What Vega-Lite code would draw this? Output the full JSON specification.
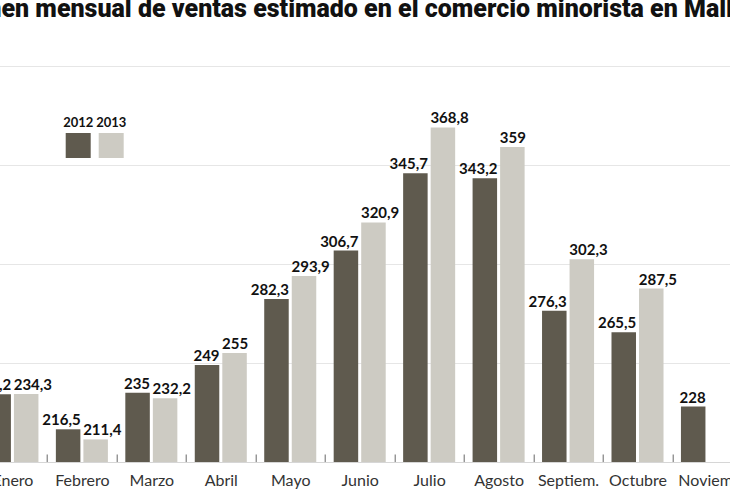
{
  "$schema": "https://vega.github.io/schema/vega-lite/v6.json",
  "width": 764,
  "height": 436,
  "autosize": {"type": "none"},
  "padding": {"left": -22.3, "top": 26, "right": 0, "bottom": 38},
  "background": "white",
  "title": {
    "text": "Volumen mensual de ventas estimado en el comercio minorista en Mallorca",
    "font": "Roboto",
    "fontSize": 25,
    "fontWeight": 900,
    "color": "#111111",
    "anchor": "middle",
    "offset": 4,
    "dx": -4
  },
  "data": {
    "values": [
      {"month": "Enero", "year": "2012", "value": 234.2},
      {"month": "Enero", "year": "2013", "value": 234.3},
      {"month": "Febrero", "year": "2012", "value": 216.5},
      {"month": "Febrero", "year": "2013", "value": 211.4},
      {"month": "Marzo", "year": "2012", "value": 235},
      {"month": "Marzo", "year": "2013", "value": 232.2},
      {"month": "Abril", "year": "2012", "value": 249},
      {"month": "Abril", "year": "2013", "value": 255},
      {"month": "Mayo", "year": "2012", "value": 282.3},
      {"month": "Mayo", "year": "2013", "value": 293.9},
      {"month": "Junio", "year": "2012", "value": 306.7},
      {"month": "Junio", "year": "2013", "value": 320.9},
      {"month": "Julio", "year": "2012", "value": 345.7},
      {"month": "Julio", "year": "2013", "value": 368.8},
      {"month": "Agosto", "year": "2012", "value": 343.2},
      {"month": "Agosto", "year": "2013", "value": 359},
      {"month": "Septiem.", "year": "2012", "value": 276.3},
      {"month": "Septiem.", "year": "2013", "value": 302.3},
      {"month": "Octubre", "year": "2012", "value": 265.5},
      {"month": "Octubre", "year": "2013", "value": 287.5},
      {"month": "Noviem.", "year": "2012", "value": 228}
    ]
  },
  "encoding": {
    "x": {
      "field": "month",
      "type": "nominal",
      "sort": null,
      "scale": {"paddingInner": 0, "paddingOuter": 0},
      "axis": {
        "title": null,
        "labelAngle": 0,
        "labelFont": "Lato",
        "labelFontSize": 16,
        "labelColor": "#333333",
        "labelPadding": 19,
        "ticks": true,
        "tickBand": "extent",
        "tickSize": -8,
        "tickColor": "#666666",
        "tickWidth": 1,
        "tickOpacity": 1,
        "domain": true,
        "domainColor": "#d6d6d6",
        "grid": false
      }
    },
    "xOffset": {
      "field": "year",
      "type": "nominal",
      "scale": {"domain": ["2012", "2013"], "paddingInner": 0.11, "paddingOuter": 0.3165}
    },
    "y": {
      "field": "value",
      "type": "quantitative",
      "scale": {"domain": [200, 420], "zero": false, "nice": false},
      "axis": {
        "title": null,
        "labels": false,
        "ticks": false,
        "domain": false,
        "grid": true,
        "gridColor": "#e6e6e6",
        "gridWidth": 1.2,
        "values": [250, 300, 350, 400]
      }
    }
  },
  "layer": [
    {
      "mark": {"type": "bar"},
      "encoding": {
        "y2": {"datum": 200},
        "color": {
          "field": "year",
          "type": "nominal",
          "scale": {"domain": ["2012", "2013"], "range": ["#5f5a4e", "#cdcbc3"]},
          "legend": {
            "orient": "none",
            "legendX": 88,
            "legendY": 107,
            "direction": "horizontal",
            "title": null,
            "symbolType": "square",
            "symbolSize": 625,
            "symbolStrokeWidth": 0,
            "symbolOpacity": 1,
            "labelFont": "Lato",
            "labelFontSize": 13,
            "labelFontWeight": "bold",
            "labelColor": "#111111",
            "labelAlign": "center",
            "labelOffset": -12.5,
            "columnPadding": 2,
            "encoding": {
              "labels": {
                "dy": {"value": -23}
              }
            }
          }
        }
      }
    },
    {
      "transform": [{"filter": "datum.year == '2012'"}],
      "mark": {
        "type": "text",
        "baseline": "alphabetic",
        "align": "right",
        "dx": 12.5,
        "dy": -4,
        "font": "Lato",
        "fontSize": 15,
        "fontWeight": "bold",
        "color": "#111111"
      },
      "encoding": {
        "text": {"field": "value", "type": "quantitative", "format": "~f"}
      }
    },
    {
      "transform": [{"filter": "datum.year == '2013'"}],
      "mark": {
        "type": "text",
        "baseline": "alphabetic",
        "align": "left",
        "dx": -12.5,
        "dy": -4,
        "font": "Lato",
        "fontSize": 15,
        "fontWeight": "bold",
        "color": "#111111"
      },
      "encoding": {
        "text": {"field": "value", "type": "quantitative", "format": "~f"}
      }
    }
  ],
  "config": {
    "view": {"stroke": null},
    "locale": {
      "number": {
        "decimal": ",",
        "thousands": ".",
        "grouping": [3],
        "currency": ["", " €"]
      }
    }
  }
}
